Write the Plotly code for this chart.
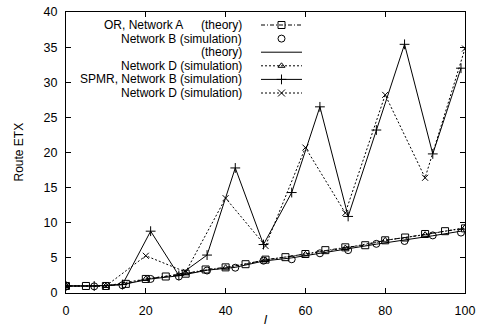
import math
import plotly.graph_objects as go

# ---------------- data ----------------
step_b = 5 * math.sqrt(2)
l_a = [5 * k for k in range(21)]
l_b = [step_b * k for k in range(15)]
l_d = [10 * k for k in range(11)]

or_a_theory = [1.0, 1.0, 1.0, 1.3, 2.0, 2.35, 2.75, 3.35, 3.65, 4.1, 4.75,
               5.1, 5.55, 6.1, 6.5, 6.8, 7.5, 7.9, 8.4, 8.8, 9.2]
or_b_sim = [1.0, 0.95, 1.1, 2.0, 2.35, 3.2, 3.6, 4.6, 4.8, 5.65, 6.1, 7.0,
            7.4, 8.2, 8.6]
or_b_theory = [1.0, 1.0, 1.2, 2.0, 2.45, 3.25, 3.65, 4.55, 5.0, 5.7, 6.3,
               6.95, 7.5, 8.15, 8.8]
or_d_sim = [1.0, 1.0, 2.0, 2.8, 3.6, 4.7, 5.5, 6.4, 7.5, 8.3, 9.3]
spmr_b_sim = [1.0, 1.0, 1.2, 8.8, 2.5, 5.4, 17.8, 6.9, 14.3, 26.5, 10.9,
              23.2, 35.4, 19.8, 32.0]
spmr_d_sim = [1.0, 1.0, 5.3, 3.0, 13.5, 6.7, 20.7, 11.4, 28.2, 16.4, 34.8]

x_ticks = [0, 20, 40, 60, 80, 100]
y_ticks = [0, 5, 10, 15, 20, 25, 30, 35, 40]

DASHDOT = "4px,2px,1px,2px"
DOT = "2px,2px"

# legend rows: (left text, right text, line dash, marker symbol, show line)
legend_rows = [
    ("OR, Network A", "(theory)", DASHDOT, "square-open", True),
    ("", "Network B (simulation)", None, "circle-open", False),
    ("", "(theory)", "solid", None, True),
    ("", "Network D (simulation)", DOT, "triangle-up-open", True),
    ("", "SPMR, Network B (simulation)", "solid", "cross-thin-open", True),
    ("", "Network D (simulation)", DOT, "x-thin-open", True),
]

FONT = "Liberation Sans, Arial, sans-serif"
W, H = 484, 335
# plot area in screenshot pixels
PX0, PX1, PY0, PY1 = 66, 465, 12, 293
ML, MR = PX0, W - PX1
MT, MB = PY0, H - PY1
PW, PH = PX1 - PX0, PY1 - PY0

fig = go.Figure()

def add(x, y, dash, symbol, size, mode):
    fig.add_trace(go.Scatter(
        x=x, y=y, mode=mode,
        line=dict(color="black", width=1, dash=dash) if dash else None,
        marker=dict(symbol=symbol, size=size, color="black",
                    line=dict(color="black", width=1)) if symbol else None,
        showlegend=False, hoverinfo="skip"))

add(l_b, or_b_theory, "solid", None, 0, "lines")
add(l_a, or_a_theory, DASHDOT, "square-open", 7, "lines+markers")
add(l_b, or_b_sim, None, "circle-open", 7, "markers")
add(l_d, or_d_sim, DOT, "triangle-up-open", 6, "lines+markers")
add(l_b, spmr_b_sim, "solid", "cross-thin-open", 7, "lines+markers")
add(l_d, spmr_d_sim, DOT, "x-thin-open", 6, "lines+markers")

# ---------------- custom gnuplot-style key ----------------
def fx(px):
    return (px - PX0) / PW

def fy(py):
    return (PY1 - py) / PH

row_y0, row_dy = 25, 13.6
text_right, name_right = 244, 185
sample_x0, sample_x1 = 261, 302
annotations = []
for i, (left, right, dash, sym, has_line) in enumerate(legend_rows):
    py = row_y0 + i * row_dy
    yy = fy(py)
    annotations.append(dict(x=fx(text_right), y=yy, xref="paper", yref="paper",
                            text=right, showarrow=False, xanchor="right",
                            yanchor="middle", font=dict(size=12, family=FONT, color="black")))
    if left:
        annotations.append(dict(x=fx(name_right), y=yy, xref="paper", yref="paper",
                                text=left, showarrow=False, xanchor="right",
                                yanchor="middle", font=dict(size=12, family=FONT, color="black")))
    xs = [fx(sample_x0), fx((sample_x0 + sample_x1) / 2), fx(sample_x1)]
    if has_line:
        fig.add_trace(go.Scatter(x=[xs[0], xs[2]], y=[yy, yy], mode="lines",
                                 line=dict(color="black", width=1, dash=dash),
                                 xaxis="x2", yaxis="y2", showlegend=False, hoverinfo="skip"))
    if sym:
        fig.add_trace(go.Scatter(x=[xs[1]], y=[yy], mode="markers",
                                 marker=dict(symbol=sym, size=7 if sym != "triangle-up-open" else 6,
                                             color="black",
                                             line=dict(color="black", width=1)),
                                 xaxis="x2", yaxis="y2", showlegend=False, hoverinfo="skip"))

annotations.append(dict(x=0.5, y=fy(310), xref="paper", yref="paper", text="<i>l</i>",
                        showarrow=False, yanchor="top",
                        font=dict(size=13, family=FONT, color="black")))
annotations.append(dict(x=fx(18), y=0.5, xref="paper", yref="paper", text="Route ETX",
                        showarrow=False, textangle=-90, xanchor="center", yanchor="middle",
                        font=dict(size=12, family=FONT, color="black")))

axis_common = dict(showline=True, linecolor="black", linewidth=1, mirror="allticks",
                   ticks="inside", ticklen=5, tickcolor="black", tickwidth=1,
                   showgrid=False, zeroline=False, automargin=False,
                   tickfont=dict(size=12.5, family=FONT, color="black"))

fig.update_layout(
    width=W, height=H,
    margin=dict(l=ML, r=MR, t=MT, b=MB),
    paper_bgcolor="white", plot_bgcolor="white",
    xaxis=dict(range=[0, 100], tickvals=x_ticks, ticklabelstandoff=6, **axis_common),
    yaxis=dict(range=[0, 40], tickvals=y_ticks, ticklabelstandoff=5, **axis_common),
    xaxis2=dict(range=[0, 1], overlaying="x", visible=False, fixedrange=True),
    yaxis2=dict(range=[0, 1], overlaying="y", visible=False, fixedrange=True),
    annotations=annotations,
)

fig.write_html("out.html", config={"displayModeBar": False, "staticPlot": True},
               post_script="document.body.style.margin='0';document.body.style.overflow='hidden';")
